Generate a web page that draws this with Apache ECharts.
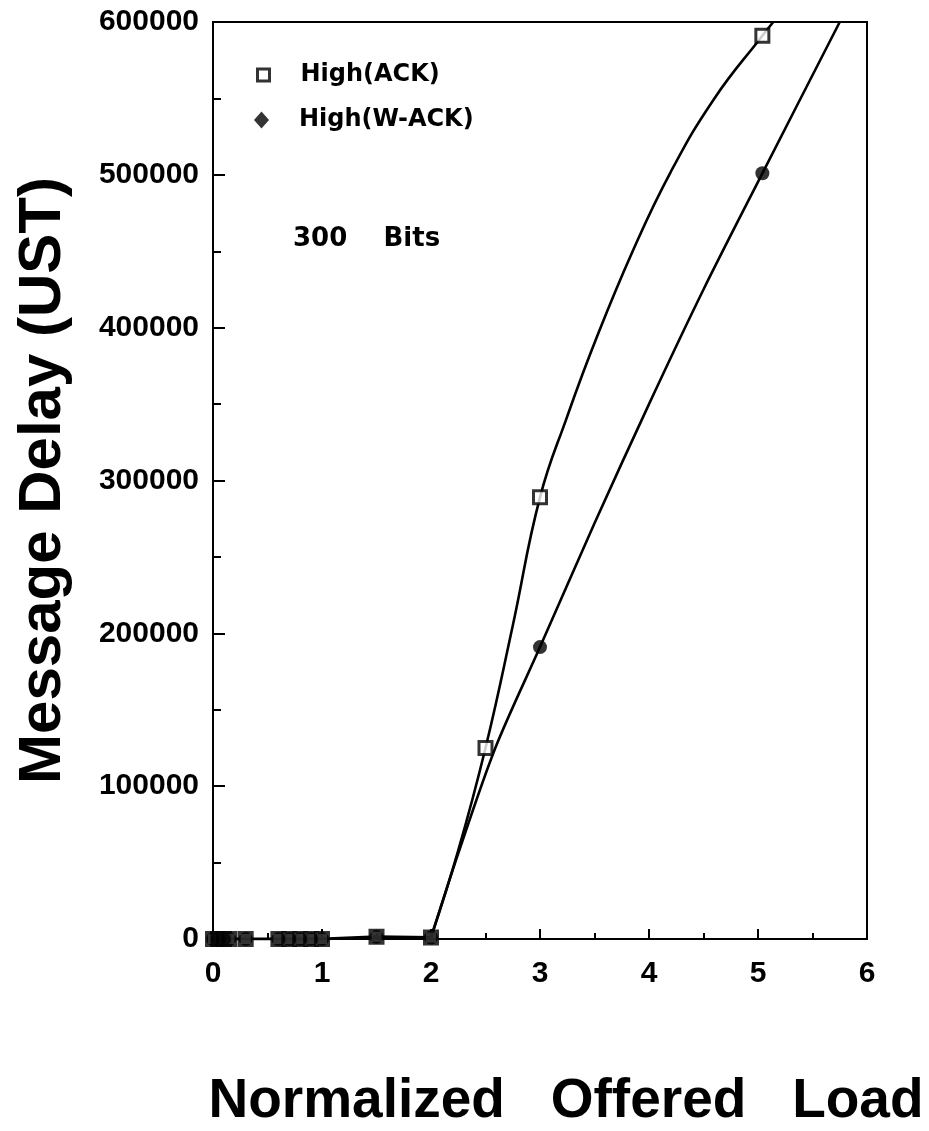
<!DOCTYPE html>
<html>
<head>
<meta charset="utf-8">
<script src="https://cdn.jsdelivr.net/npm/echarts@6/dist/echarts.min.js"></script>
<style>
html,body{margin:0;padding:0;background:#fff;}
#chart{width:929px;height:1131px;}
</style>
</head>
<body>
<div id="chart"></div>
<script>
// ---- data ----
const xTicks = [0, 1, 2, 3, 4, 5, 6];
const yTicks = [0, 100000, 200000, 300000, 400000, 500000, 600000];

// measured points, High(ACK)
const ackLoad  = [0, 0.05, 0.1, 0.15, 0.3, 0.6, 0.7, 0.8, 0.9, 1.0, 1.5, 2.0, 2.5, 3.0, 5.04];
const ackDelay = [0, 0, 0, 0, 0, 0, 0, 0, 0, 0, 1500, 1000, 125000, 289000, 591000];

// measured points, High(W-ACK)
const wackLoad  = [0, 0.05, 0.1, 0.15, 0.3, 0.6, 0.7, 0.8, 0.9, 1.0, 1.5, 2.0, 3.0, 5.04];
const wackDelay = [0, 0, 0, 0, 0, 0, 0, 0, 0, 0, 1500, 1000, 191000, 501000];

// low-load (flat) part of both curves
const flatLoad  = [0, 0.3, 1.0, 1.5, 2.0];
const flatDelay = [0, 0, 0, 1500, 1000];

// rising fitted curves as drawn in the picture
const ackCurveLoad  = [2.0, 2.25, 2.5, 2.75, 3.0, 3.25, 3.5, 3.85, 4.2, 4.6, 5.04, 5.14];
const ackCurveDelay = [1000, 58000, 125000, 205000, 289000, 342000, 390000, 450000, 502000, 550000, 591000, 600000];
const wackCurveLoad  = [2.0, 2.25, 2.59, 3.0, 3.5, 4.0, 4.5, 5.04, 5.75];
const wackCurveDelay = [1000, 56000, 125000, 191000, 272000, 350000, 425000, 501000, 600000];

const seriesNames = ['High(ACK)', 'High(W-ACK)'];
const noteText = '300    Bits';
const xTitle = 'Normalized   Offered   Load';
const yTitle = 'Message Delay (UST)';

function pairs(xs, ys) { return xs.map((x, i) => [x, ys[i]]); }

const chart = echarts.init(document.getElementById('chart'), null, {renderer: 'canvas'});
const black = '#000';
const tickFont = {fontFamily: '"Liberation Sans", Arial, sans-serif', fontWeight: 'bold', fontSize: 30, color: black};
const curveLine = {color: black, width: 2.6};
const legendText = {fontFamily: '"DejaVu Sans", sans-serif', fontWeight: 'bold', fontSize: 24, color: black};

chart.setOption({
  backgroundColor: '#fff',
  animation: false,
  grid: {left: 213, right: 62, top: 22, bottom: 192, show: true, borderColor: black, borderWidth: 2,
         containLabel: false, outerBoundsMode: 'none'},
  legend: [
    {
      orient: 'vertical', left: 251, top: 58, itemWidth: 12, itemHeight: 12,
      textStyle: Object.assign({padding: [0, 0, 0, 26]}, legendText),
      data: [{name: seriesNames[0], icon: 'rect', itemStyle: {color: '#fff', borderColor: black, borderWidth: 3}}]
    },
    {
      orient: 'vertical', left: 249, top: 103, itemWidth: 15, itemHeight: 17,
      textStyle: Object.assign({padding: [0, 0, 0, 25]}, legendText),
      data: [{name: seriesNames[1], icon: 'diamond', itemStyle: {color: black, borderWidth: 0}}]
    }
  ],
  xAxis: {
    type: 'value', min: 0, max: 6, interval: 1,
    name: xTitle, nameLocation: 'middle', nameGap: 163,
    nameTextStyle: {fontFamily: '"Liberation Sans", Arial, sans-serif', fontWeight: 'bold', fontSize: 55, color: black, padding: [0, 0, 0, 52], verticalAlign: 'middle'},
    axisLine: {show: true, onZero: false, lineStyle: {color: black, width: 2}},
    axisTick: {show: true, inside: true, length: 10, lineStyle: {color: black, width: 2}},
    minorTick: {show: true, splitNumber: 2, length: 6, lineStyle: {color: black, width: 2}},
    axisLabel: Object.assign({margin: 20, formatter: v => xTicks.includes(v) ? String(v) : ''}, tickFont),
    splitLine: {show: false}
  },
  yAxis: {
    type: 'value', min: 0, max: 600000, interval: 100000,
    name: yTitle, nameLocation: 'middle', nameGap: 170, nameRotate: 90,
    nameTextStyle: {fontFamily: '"Liberation Sans", Arial, sans-serif', fontWeight: 'bold', fontSize: 60, color: black, verticalAlign: 'middle'},
    axisLine: {show: true, onZero: false, lineStyle: {color: black, width: 2}},
    axisTick: {show: true, inside: true, length: 12, lineStyle: {color: black, width: 2}},
    minorTick: {show: true, splitNumber: 2, length: 8, lineStyle: {color: black, width: 2}},
    axisLabel: Object.assign({margin: 14, formatter: v => yTicks.includes(v) ? String(v) : ''}, tickFont),
    splitLine: {show: false}
  },
  graphic: [{
    type: 'text', left: 293, top: 226, z: 10,
    style: {text: noteText, font: 'bold 26px "DejaVu Sans", sans-serif', fill: black}
  }],
  series: [
    {
      name: 'flat', type: 'line', data: pairs(flatLoad, flatDelay), smooth: false,
      showSymbol: false, symbol: 'none', lineStyle: {color: black, width: 3}, z: 2, silent: true
    },
    {
      name: 'ACK fit', type: 'line', data: pairs(ackCurveLoad, ackCurveDelay), smooth: 0.45,
      showSymbol: false, symbol: 'none', lineStyle: curveLine, z: 2, clip: true, silent: true
    },
    {
      name: 'W-ACK fit', type: 'line', data: pairs(wackCurveLoad, wackCurveDelay), smooth: 0.3,
      showSymbol: false, symbol: 'none', lineStyle: curveLine, z: 2, clip: true, silent: true
    },
    {
      name: seriesNames[0], type: 'scatter', data: pairs(ackLoad, ackDelay), symbol: 'rect', symbolSize: 13,
      itemStyle: {color: '#fff', borderColor: black, borderWidth: 3}, z: 3, clip: false
    },
    {
      name: seriesNames[1], type: 'scatter', data: pairs(wackLoad, wackDelay), symbol: 'circle', symbolSize: 14,
      itemStyle: {color: black}, z: 4, clip: false
    }
  ]
});
</script>
</body>
</html>
